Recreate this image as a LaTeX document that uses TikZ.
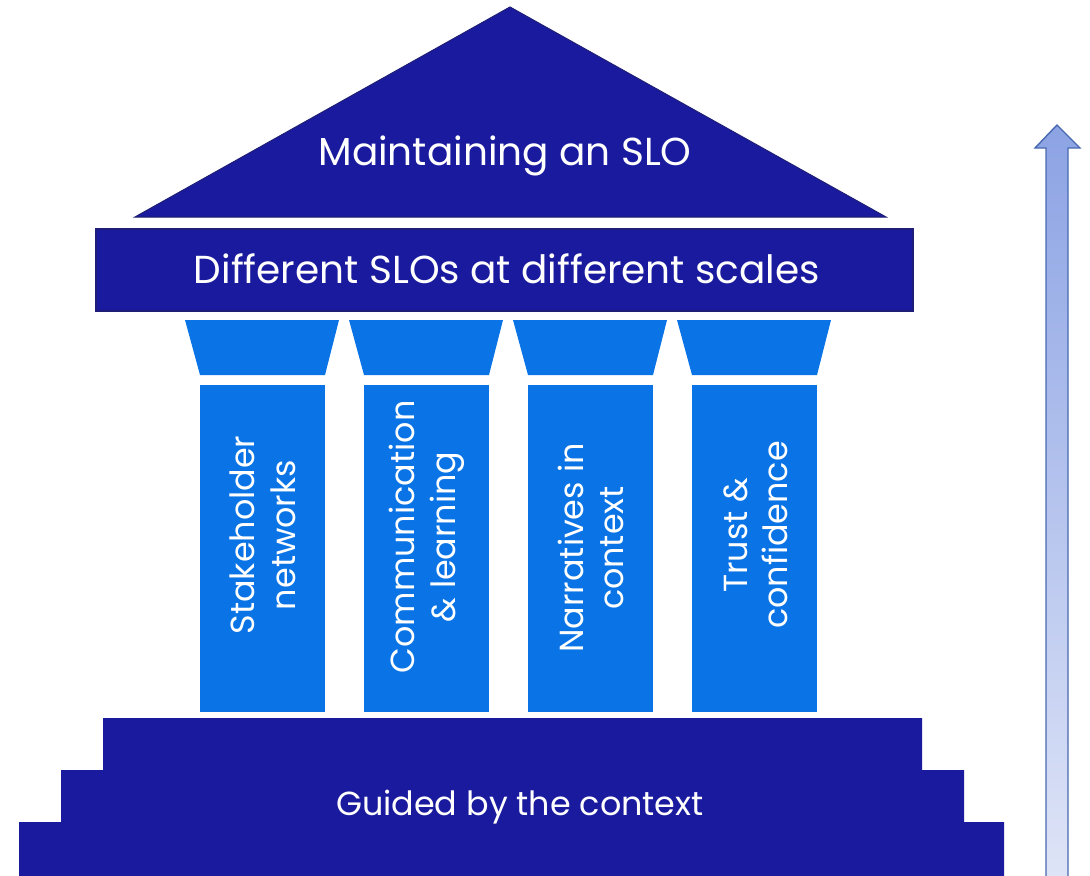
\documentclass[tikz,border=0pt]{standalone}
\usepackage{fontspec}
\setmainfont{Poppins}
\begin{document}
\begin{tikzpicture}[x=0.02cm,y=-0.02cm,
  dark/.style={fill=temple, draw=templeline, line width=0.6pt},
  pillar/.style={fill=pillarblue, draw=none},
  label/.style={text=white, font=\fontsize{19}{23}\selectfont, inner sep=0pt},
  biglabel/.style={label, font=\fontsize{22.2}{26}\selectfont},
  collabel/.style={label, rotate=90, align=center}]
\definecolor{temple}{RGB}{26,26,158}
\definecolor{templeline}{RGB}{30,30,120}
\definecolor{pillarblue}{RGB}{10,115,230}
\definecolor{arrowtop}{RGB}{140,163,228}
\definecolor{arrowbottom}{RGB}{222,228,247}
\definecolor{arrowline}{RGB}{72,105,175}
\useasboundingbox (0,0) rectangle (1090,876);

% roof
\draw[dark] (510,7) -- (886,217) -- (135,217) -- cycle;
\node[biglabel] (roof) at (505,156) {Maintaining an SLO};

% entablature
\draw[dark] (96,229) rectangle (913,311);
\node[biglabel] (beam) at (507,269) {Different SLOs at different scales};

% capitals and shafts
\foreach \x in {0,164,328,492} {
  \fill[pillarblue] (185+\x,320) -- (339+\x,320) -- (325+\x,375) -- (200+\x,375) -- cycle;
  \fill[pillarblue] (200+\x,385) rectangle (325+\x,712);
}
\node[collabel] (c1) at (263,535) {Stakeholder\\networks};
\node[collabel] (c2) at (427,537) {Communication\\\& learning};
\node[collabel] (c3) at (591,548) {Narratives in\\context};
\node[collabel] (c4) at (756,535) {Trust \&\\confidence};

% stepped base
\fill[temple] (19,876) -- (19,822) -- (61,822) -- (61,770) -- (103,770) -- (103,718)
  -- (922,718) -- (922,770) -- (964,770) -- (964,822) -- (1004,822) -- (1004,876) -- cycle;
\node[label] (base) at (520,807) {Guided by the context};

% upward arrow
\shade[top color=arrowtop, bottom color=arrowbottom, draw=arrowline, line width=0.8pt]
  (1046,877) -- (1046,148) -- (1035,148) -- (1057,125) -- (1080,148) -- (1068,148) -- (1068,877) -- cycle;
\end{tikzpicture}
\end{document}
